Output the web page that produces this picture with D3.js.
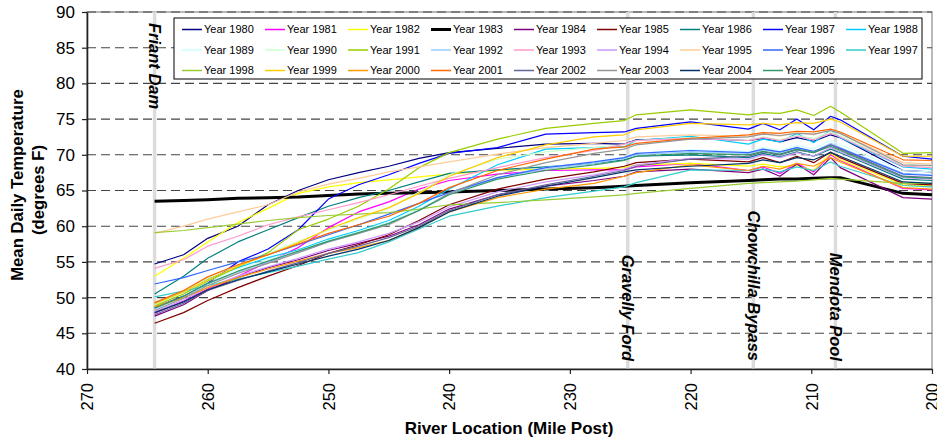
<!DOCTYPE html>
<html><head><meta charset="utf-8">
<script src="https://cdn.jsdelivr.net/npm/d3@7/dist/d3.min.js"></script>
<style>
body{margin:0;background:#fff;}
svg{display:block;font-family:"Liberation Sans",Arial,sans-serif;}
</style></head>
<body><svg id="c" width="937" height="440"></svg>
<script>
// River mile posts sampled along each profile
const miles = [264.4, 262, 260, 257.5, 255, 252.5, 250, 247.5, 245, 242.5, 240, 236, 232, 228, 225.5, 224.5, 220, 215.2, 214, 212.6, 211.2, 209.8, 208.4, 207.6, 202.4, 200];

const years = [1980,1981,1982,1983,1984,1985,1986,1987,1988,1989,1990,1991,1992,1993,1994,1995,1996,1997,1998,1999,2000,2001,2002,2003,2004,2005];

const y1980 = [54.7,56.0,58.3,60.0,63.0,65.0,66.5,67.5,68.4,69.5,70.3,70.9,71.5,71.6,71.5,72.1,72.3,72.0,72.3,71.8,72.4,71.9,72.8,72.4,67.8,67.6];
const y1981 = [47.8,49.5,51.2,53.0,55.0,57.0,59.8,62.0,63.4,65.2,66.4,67.3,67.8,67.9,67.9,68.3,68.8,67.8,68.3,67.4,68.8,67.6,70.0,69.2,65.3,65.1];
const y1982 = [53.0,55.5,57.8,60.5,62.5,64.6,65.5,66.1,66.5,66.9,67.3,67.8,68.0,68.1,68.2,68.6,68.8,68.4,68.7,68.3,68.5,67.8,70.2,69.3,65.8,65.6];
const y1983 = [63.5,63.6,63.7,63.9,64.0,64.1,64.3,64.5,64.6,64.7,64.8,65.0,65.2,65.4,65.6,65.7,66.1,66.4,66.5,66.6,66.6,66.7,66.8,66.8,64.6,64.4];
const y1984 = [47.4,49.0,51.0,52.8,54.2,55.3,56.6,57.6,58.6,60.2,62.4,64.4,65.6,66.4,67.0,67.6,68.0,67.5,68.0,67.0,68.7,67.2,69.6,68.2,64.0,63.8];
const y1985 = [46.4,47.9,49.6,51.4,53.0,54.5,56.2,57.4,58.8,60.8,63.0,65.2,66.6,67.6,68.4,68.9,69.4,69.0,69.6,68.9,69.8,68.9,70.4,69.6,66.0,65.8];
const y1986 = [50.5,53.0,55.5,57.8,59.5,61.2,62.8,64.0,65.0,66.2,67.4,67.9,68.3,68.8,69.3,69.8,70.0,69.6,70.2,69.7,70.4,69.8,70.8,70.3,66.6,66.4];
const y1987 = [48.6,50.2,52.0,55.0,56.8,59.5,63.8,65.8,67.2,68.8,70.2,71.0,72.9,73.1,73.2,73.7,74.6,73.6,74.4,73.5,75.0,73.5,75.4,74.9,69.8,69.4];
const y1988 = [49.2,50.8,52.6,54.2,55.6,56.7,58.2,59.4,60.8,62.8,65.2,68.6,70.8,71.0,71.1,72.0,72.6,71.5,72.2,71.8,73.0,71.7,73.5,72.4,68.3,68.0];
const y1989 = [48.9,50.6,52.3,54.0,55.3,56.5,58.0,59.2,60.6,62.4,64.6,66.8,68.2,69.0,69.6,70.2,70.7,70.5,71.0,70.6,71.3,70.8,72.0,71.4,67.8,67.6];
const y1990 = [49.0,50.8,52.7,54.6,56.2,57.9,59.4,61.0,62.5,64.8,67.2,69.4,70.4,71.0,71.4,72.0,72.4,72.0,72.5,72.1,72.7,72.3,73.2,72.7,68.6,68.4];
const y1991 = [48.8,50.5,52.3,54.3,56.3,59.5,61.0,62.8,65.2,68.2,70.3,72.2,73.7,74.4,74.8,75.6,76.3,75.6,75.9,75.8,76.3,75.5,76.8,76.0,70.2,70.3];
const y1992 = [48.4,50.1,51.9,53.6,55.0,56.3,57.8,59.0,60.4,62.2,64.5,66.8,68.0,68.8,69.5,70.0,70.4,70.2,70.7,70.3,71.0,70.4,71.6,71.0,67.4,67.2];
const y1993 = [54.1,55.3,57.2,58.6,60.2,61.3,62.3,63.3,64.4,65.6,66.7,68.2,69.6,70.6,71.5,72.0,72.3,72.0,72.4,72.0,72.6,72.1,73.0,72.5,68.4,68.2];
const y1994 = [48.0,49.7,51.4,53.0,54.3,55.5,56.8,57.8,59.0,60.6,62.7,64.8,66.2,67.2,68.0,68.6,69.5,69.4,70.0,69.6,70.3,69.8,71.0,70.4,66.8,66.6];
const y1995 = [59.0,60.0,61.0,62.0,63.0,64.8,65.9,66.7,67.6,68.3,69.0,70.1,71.0,71.6,72.0,72.5,72.8,72.6,73.0,72.6,73.2,72.8,73.5,73.0,68.9,68.7];
const y1996 = [51.9,52.8,53.8,55.0,56.0,57.4,58.8,60.2,61.7,63.2,64.7,66.8,68.2,69.0,69.6,70.2,70.6,70.3,70.8,70.4,71.0,70.5,71.4,70.9,67.3,67.1];
const y1997 = [50.1,50.9,51.7,52.6,53.5,54.4,55.4,56.3,57.8,59.6,61.4,62.8,64.0,64.9,65.5,66.1,67.9,67.8,68.0,67.6,68.3,67.8,69.0,68.4,65.7,65.5];
const y1998 = [59.1,59.4,59.8,60.3,60.8,61.2,61.5,61.7,61.9,62.4,63.0,63.3,63.7,64.1,64.4,64.6,65.3,66.0,66.1,66.2,66.3,66.5,66.7,66.6,66.0,66.0];
const y1999 = [49.1,50.8,52.5,54.4,56.0,57.7,59.6,61.2,62.6,64.6,67.0,69.6,71.4,72.5,72.8,73.5,74.4,74.2,74.4,74.2,74.5,74.4,75.0,74.6,69.8,69.8];
const y2000 = [48.7,50.0,51.4,52.8,54.0,55.1,56.2,57.0,58.0,59.8,62.0,64.0,65.2,66.0,67.0,67.5,68.6,67.8,68.4,68.0,68.8,68.4,69.6,69.0,65.4,65.2];
const y2001 = [49.3,51.0,52.9,54.6,56.0,57.5,59.0,60.2,61.4,63.2,65.4,67.8,69.4,70.8,71.1,71.6,72.3,72.8,73.1,73.0,73.3,73.2,73.6,73.2,69.3,69.2];
const y2002 = [47.6,49.2,51.0,52.4,53.7,54.9,56.2,57.2,58.4,60.0,62.2,64.4,65.8,67.0,67.8,68.4,69.4,69.8,70.4,70.0,70.7,70.3,71.4,70.8,67.0,66.8];
const y2003 = [48.2,49.9,51.7,53.4,54.8,56.3,57.8,59.0,60.2,62.2,64.6,67.2,68.9,70.2,70.8,71.4,72.2,72.5,72.9,72.7,73.0,72.9,73.4,73.0,68.6,68.5];
const y2004 = [47.9,49.4,51.1,52.5,53.6,54.7,55.8,56.8,58.0,59.8,62.0,64.2,65.6,66.8,67.6,67.9,68.4,68.8,69.3,68.9,69.6,69.3,70.3,69.8,66.2,66.0];
const y2005 = [48.5,50.2,52.0,53.7,55.1,56.5,57.9,59.1,60.4,62.2,64.4,66.6,67.8,68.6,69.2,69.8,70.2,70.0,70.5,70.1,70.8,70.3,71.2,70.6,66.9,66.7];

const seriesValues = [y1980,y1981,y1982,y1983,y1984,y1985,y1986,y1987,y1988,y1989,y1990,y1991,y1992,y1993,y1994,y1995,y1996,y1997,y1998,y1999,y2000,y2001,y2002,y2003,y2004,y2005];

const colors = ["#000080","#FF00FF","#FFFF00","#000000","#800080","#800000","#008080","#0000FF","#00CCFF","#CCFFFF","#CCFFCC","#99CC00","#99CCFF","#FF99CC","#CC99FF","#FFCC99","#3366FF","#33CCCC","#99CC33","#FFCC00","#FF9900","#FF6600","#666699","#969696","#003366","#339966"];

const yTicks = [40,45,50,55,60,65,70,75,80,85,90];
const xTicks = [270,260,250,240,230,220,210,200];

const landmarkNames = ["Friant Dam","Gravelly Ford","Chowchilla Bypass","Mendota Pool"];
const landmarkMiles = [264.4, 225.2, 214.8, 208.0];

const svg = d3.select("#c");
const L = 87, R = 932, T = 12, B = 369;
const x = d3.scaleLinear().domain([270,200]).range([L,R]);
const y = d3.scaleLinear().domain([40,90]).range([B,T]);

// plot border
svg.append("rect").attr("x",L).attr("y",T).attr("width",R-L).attr("height",B-T)
  .attr("fill","none").attr("stroke","#8a8a8a").attr("stroke-width",1.2);

// gridlines
svg.append("g").selectAll("line").data(yTicks.filter(v=>v>40)).join("line")
  .attr("x1",L).attr("x2",R).attr("y1",d=>y(d)).attr("y2",d=>y(d))
  .attr("stroke","#444").attr("stroke-width",1.1).attr("stroke-dasharray","9,5");

// landmark lines
svg.append("g").selectAll("line").data(landmarkMiles).join("line")
  .attr("x1",d=>x(d)).attr("x2",d=>x(d)).attr("y1",T).attr("y2",B)
  .attr("stroke","#dcdcdc").attr("stroke-width",3.5);

// series
const line = d3.line().x((d,i)=>x(miles[i])).y(d=>y(d));
svg.append("g").selectAll("path").data(seriesValues).join("path")
  .attr("d",d=>line(d)).attr("fill","none")
  .attr("stroke",(d,i)=>colors[i])
  .attr("stroke-width",(d,i)=>years[i]===1983?3:1.2)
  .attr("stroke-linejoin","round");

// axes
const ya = svg.append("g").attr("transform",`translate(${L},0)`)
  .call(d3.axisLeft(y).tickValues(yTicks).tickSize(5).tickPadding(7).tickSizeOuter(0));
ya.selectAll("text").attr("font-size",17).attr("fill","#000").attr("font-family","Liberation Sans, Arial, sans-serif");
ya.select(".domain").attr("stroke","#222").attr("stroke-width",1.6);
ya.selectAll(".tick line").attr("stroke","#222").attr("stroke-width",1.2);

const xa = svg.append("g").attr("transform",`translate(0,${B})`)
  .call(d3.axisBottom(x).tickValues(xTicks).tickSize(5).tickSizeOuter(0).tickFormat(d3.format("d")));
xa.selectAll("text").attr("font-size",16.5).attr("fill","#000")
  .attr("font-family","Liberation Sans, Arial, sans-serif")
  .attr("transform","rotate(-90)").attr("text-anchor","end")
  .attr("x",-14).attr("y",0).attr("dy","0.35em");
xa.select(".domain").attr("stroke","#222").attr("stroke-width",1.6);
xa.selectAll(".tick line").attr("stroke","#222").attr("stroke-width",1.2);

// landmark labels
svg.append("g").selectAll("text").data(landmarkNames).join("text")
  .attr("transform",(d,i)=>`translate(${x(landmarkMiles[i])},${i===0?23:361}) rotate(90)`)
  .attr("text-anchor",(d,i)=>i===0?"start":"end")
  .attr("dy","0.35em")
  .attr("font-size",16.5).attr("font-weight","bold").attr("font-style","italic")
  .text(d=>d);

// axis titles
svg.append("text").attr("transform","translate(17,185) rotate(-90)")
  .attr("text-anchor","middle").attr("dy","0.35em")
  .attr("font-size",16.7).attr("font-weight","bold").text("Mean Daily Temperature");
svg.append("text").attr("transform","translate(38,190) rotate(-90)")
  .attr("text-anchor","middle").attr("dy","0.35em")
  .attr("font-size",16.7).attr("font-weight","bold").text("(degrees F)");
svg.append("text").attr("x",509).attr("y",434).attr("text-anchor","middle")
  .attr("font-size",17).attr("font-weight","bold").text("River Location (Mile Post)");

// legend
const lg = svg.append("g");
lg.append("rect").attr("x",174).attr("y",18).attr("width",748).attr("height",61)
  .attr("fill","#fff").attr("stroke","#000").attr("stroke-width",1);
const items = lg.selectAll("g.it").data(years).join("g").attr("class","it")
  .attr("transform",(d,i)=>`translate(${182+83*(i%9)},${29.5+20.5*Math.floor(i/9)})`);
items.append("line").attr("x1",0).attr("x2",20).attr("y1",0).attr("y2",0)
  .attr("stroke",(d,i)=>colors[i]).attr("stroke-width",(d,i)=>d===1983?3:1.5);
items.append("text").attr("x",22).attr("dy","0.35em").attr("font-size",11)
  .text(d=>"Year "+d);
</script></body></html>
